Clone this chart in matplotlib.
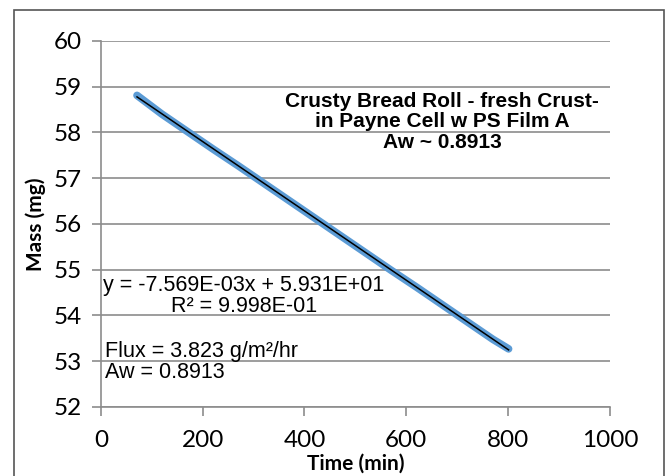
import numpy as np
import matplotlib
matplotlib.use('Agg')
import matplotlib.pyplot as plt
from matplotlib.patches import Rectangle

plt.rcParams['font.family'] = ['Liberation Sans', 'DejaVu Sans']

# readings (time in min, mass in mg)
time_min = [71, 120, 170, 220, 270, 320, 370, 420, 470, 520, 570, 620, 670, 720, 770, 801]
mass_mg = [58.81, 58.40, 58.02, 57.64, 57.27, 56.89, 56.51, 56.13,
           55.75, 55.37, 54.99, 54.62, 54.24, 53.86, 53.48, 53.27]

x_ticks = [0, 200, 400, 600, 800, 1000]
y_ticks = [52, 53, 54, 55, 56, 57, 58, 59, 60]

title_txt = 'Crusty Bread Roll - fresh Crust-\nin Payne Cell w PS Film A\nAw ~ 0.8913'
eq_txt = 'y = -7.569E-03x + 5.931E+01\nR\u00b2 = 9.998E-01'
flux_txt = 'Flux = 3.823 g/m\u00b2/hr\nAw = 0.8913'

grid_col = '#8c8c8c'
axis_font = ['Lato', 'DejaVu Sans']

fig = plt.figure(figsize=(6.68, 4.76), dpi=100)
ax = fig.add_axes([0.151, 0.145, 0.762, 0.769])

# trendline from the data
t = np.array(time_min)
m = np.array(mass_mg)
slope, icpt = np.polyfit(t, m, 1)

ax.plot(t, m, color='#5b9bd5', lw=5.5, solid_capstyle='round', zorder=3)
ax.plot([t[0], t[-1]], [slope * t[0] + icpt, slope * t[-1] + icpt], color='black', lw=1.1, zorder=4)

ax.set_xlim(0, 1000)
ax.set_ylim(52, 60)
ax.set_xticks(x_ticks)
ax.set_yticks(y_ticks)
ax.yaxis.grid(True, color=grid_col, lw=1.2)
ax.set_axisbelow(True)
for s in ['top', 'right']:
    ax.spines[s].set_visible(False)
for s in ['left', 'bottom']:
    ax.spines[s].set_color(grid_col)
    ax.spines[s].set_linewidth(1.2)
ax.tick_params(axis='both', direction='out', length=6.5, width=1.2, color=grid_col,
               labelsize=17.5, pad=7)
ax.tick_params(axis='x', pad=10)
for lbl in ax.get_xticklabels() + ax.get_yticklabels():
    lbl.set_family(axis_font)

ax.set_xlabel('Time (min)', fontsize=15, fontweight='bold', labelpad=2, family=axis_font)
ax.set_ylabel('Mass (mg)', fontsize=15, fontweight='bold', labelpad=6, family=axis_font)

ax.text(0.67, 0.779, title_txt, transform=ax.transAxes, ha='center', va='center',
        fontsize=15, fontweight='bold', linespacing=1.1)
ax.text(0.281, 0.302, eq_txt, transform=ax.transAxes, ha='center', va='center',
        fontsize=15.5, linespacing=1.0, multialignment='center')
ax.text(0.008, 0.124, flux_txt, transform=ax.transAxes, ha='left', va='center',
        fontsize=15.5, linespacing=1.0)

fig.patches.append(Rectangle((14 / 668, -0.05), 650 / 668, 1 - 10 / 476 + 0.05,
                             transform=fig.transFigure, fill=False,
                             edgecolor='#555555', lw=1.2))

fig.savefig('out.png', dpi=100)
